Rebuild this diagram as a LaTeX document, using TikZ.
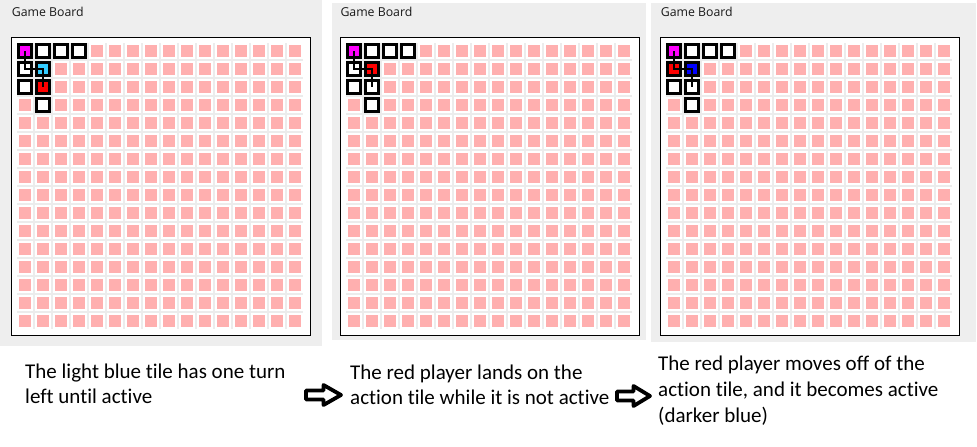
\documentclass[tikz,border=0pt]{standalone}
\usepackage{fontspec}
\setmainfont{Carlito}[Ligatures=NoCommon]
\newfontfamily\uifont{Open Sans}
\definecolor{panelgray}{RGB}{238,238,238}
\definecolor{gapgray}{RGB}{236,236,236}
\definecolor{tilepink}{RGB}{255,175,175}
\definecolor{lightblue}{RGB}{51,204,255}
\definecolor{tilemagenta}{RGB}{255,0,255}
\definecolor{tilered}{RGB}{255,0,0}
\definecolor{tileblue}{RGB}{0,0,255}
\newcommand\gameboardgrid{%
  \fill[gapgray] (0,0) rectangle (286,286);
  \foreach \c in {0,...,15}{\foreach \r in {0,...,15}{
    \fill[white] (18*\c,18*\r) rectangle ++(16,16);
    \fill[tilepink] (18*\c+2,18*\r+2) rectangle ++(12,12);
  }}%
}
\newcommand\blockarrow[3]{% x0, x1, yc
  \filldraw[arrowshape] (#1,#3-4.5) -- ({(#1+#2)/2},#3-4.5) -- ({(#1+#2)/2},#3-10)
    -- (#2,#3) -- ({(#1+#2)/2},#3+10) -- ({(#1+#2)/2},#3+4.5) -- (#1,#3+4.5) -- cycle;
}
\begin{document}
\begin{tikzpicture}[x=1pt,y=-1pt,
  panel/.style={fill=panelgray},
  boardframe/.style={draw=black,line width=1pt,fill=white},
  tile/.style={draw=black,line width=2.6pt,fill=white,minimum size=13.2pt,inner sep=0pt,outer sep=0pt},
  track/.style={draw=black,line width=2pt},
  title/.style={anchor=base west,inner sep=0pt,font=\uifont\fontsize{12.3}{14}\selectfont,text=black!90},
  caption/.style={anchor=base west,inner sep=0pt,font=\fontsize{21}{25}\selectfont},
  arrowshape/.style={draw=black,fill=white,line width=3.8pt,line join=round}]
\useasboundingbox (0,0) rectangle (977,447);
\fill[white] (0,0) rectangle (977,447);
% panels
\fill[panel] (0,0) rectangle (322,346);
\fill[panel] (332,3) rectangle (645.5,340);
\fill[panel] (651,3) rectangle (976,342);
% titles
\node[title] (t1) at (11.7,16.7) {Game Board};
\node[title] (t2) at (340.3,16.7) {Game Board};
\node[title] (t3) at (660.7,16.7) {Game Board};
% board frames
\draw[boardframe] (11.5,37.5) rectangle (310.5,335.5);
\draw[boardframe] (340.5,37.5) rectangle (639.5,335.5);
\draw[boardframe] (660.5,37.5) rectangle (959.5,335.5);
% ---------- board 1
\begin{scope}[shift={(17,43)}]
  \gameboardgrid
  \node[tile,fill=tilemagenta] (a00) at (8,8) {};
  \node[tile] (a10) at (26,8) {};
  \node[tile] (a20) at (44,8) {};
  \node[tile] (a30) at (62,8) {};
  \node[tile] (a01) at (8,26) {};
  \node[tile,fill=lightblue] (a11) at (26,26) {};
  \node[tile] (a02) at (8,44) {};
  \node[tile,fill=tilered] (a12) at (26,44) {};
  \node[tile] (a13) at (26,62) {};
  \draw[track] (a00.center) -- (a01.center) -- (a11.center) -- (a12.center);
\end{scope}
% ---------- board 2
\begin{scope}[shift={(346,43)}]
  \gameboardgrid
  \node[tile,fill=tilemagenta] (b00) at (8,8) {};
  \node[tile] (b10) at (26,8) {};
  \node[tile] (b20) at (44,8) {};
  \node[tile] (b30) at (62,8) {};
  \node[tile] (b01) at (8,26) {};
  \node[tile,fill=tilered] (b11) at (26,26) {};
  \node[tile] (b02) at (8,44) {};
  \node[tile] (b12) at (26,44) {};
  \node[tile] (b13) at (26,62) {};
  \draw[track] (b00.center) -- (b01.center) -- (b11.center) -- (b12.center);
\end{scope}
% ---------- board 3
\begin{scope}[shift={(666,43)}]
  \gameboardgrid
  \node[tile,fill=tilemagenta] (c00) at (8,8) {};
  \node[tile] (c10) at (26,8) {};
  \node[tile] (c20) at (44,8) {};
  \node[tile] (c30) at (62,8) {};
  \node[tile,fill=tilered] (c01) at (8,26) {};
  \node[tile,fill=tileblue] (c11) at (26,26) {};
  \node[tile] (c02) at (8,44) {};
  \node[tile] (c12) at (26,44) {};
  \node[tile] (c13) at (26,62) {};
  \draw[track] (c00.center) -- (c01.center) -- (c11.center) -- (c12.center);
\end{scope}
% captions
\node[caption] (k1a) at (25,378) {The light blue tile has one turn};
\node[caption] (k1b) at (25,403) {left until active};
\node[caption] (k2a) at (350,379) {The red player lands on the};
\node[caption] (k2b) at (350,404) {action tile while it is not active};
\node[caption] (k3a) at (658,370) {The red player moves off of the};
\node[caption] (k3b) at (658,396) {action tile, and it becomes active};
\node[caption] (k3c) at (658,422) {(darker blue)};
% arrows
\blockarrow{306}{341}{395}
\blockarrow{617}{650}{396}
\end{tikzpicture}
\end{document}
